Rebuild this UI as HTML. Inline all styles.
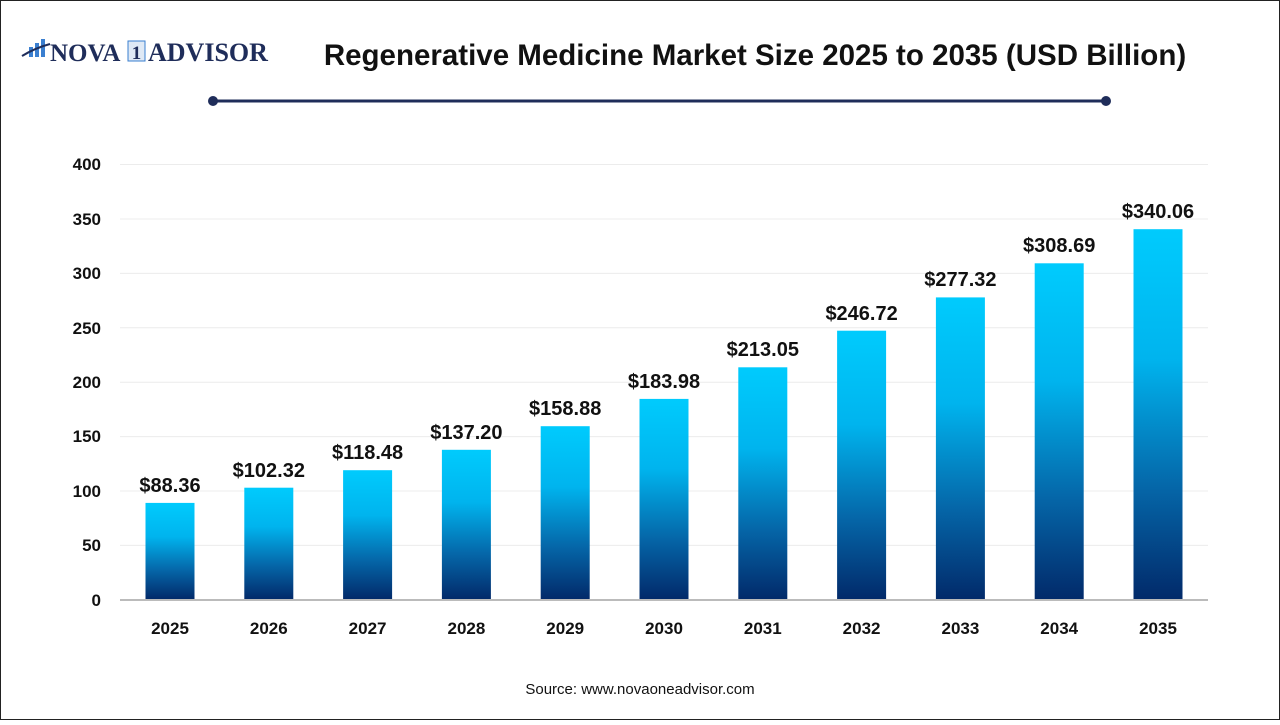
<!DOCTYPE html>
<html><head><style>
body{margin:0;width:1280px;height:720px;background:#fff;font-family:"Liberation Sans",Arial,sans-serif;overflow:hidden}
</style></head><body>
<svg width="1280" height="720" xmlns="http://www.w3.org/2000/svg" font-family="Liberation Sans, Arial, sans-serif">
<defs>
<linearGradient id="g" x1="0" y1="0" x2="0" y2="1">
<stop offset="0" stop-color="#00cbfd"/>
<stop offset="0.35" stop-color="#00b4ee"/>
<stop offset="0.7" stop-color="#0566a8"/>
<stop offset="1" stop-color="#022a6a"/>
</linearGradient>
</defs>
<rect x="0.5" y="0.5" width="1279" height="719" fill="#fff" stroke="#222" stroke-width="1"/>
<g>
<rect x="29" y="47" width="4" height="10" fill="#3a7fd0"/>
<rect x="35" y="43" width="4" height="14" fill="#3a7fd0"/>
<rect x="41" y="39" width="4" height="18" fill="#3a7fd0"/>
<path d="M22 56 Q35 48 50 44" stroke="#1f2d5a" stroke-width="2" fill="none"/>
<text x="50" y="61" font-family="Liberation Serif, serif" font-weight="bold" font-size="25" fill="#1f2d5a">NOVA</text>
<rect x="128" y="41" width="17" height="20" fill="#dfe9f5" stroke="#3a7fd0"/>
<text x="136.5" y="59" text-anchor="middle" font-family="Liberation Serif, serif" font-weight="bold" font-size="19" fill="#1f2d5a">1</text>
<text x="148" y="61" font-family="Liberation Serif, serif" font-weight="bold" font-size="26" fill="#1f2d5a">ADVISOR</text>
</g>
<text x="755" y="65" text-anchor="middle" font-weight="bold" font-size="29.5" fill="#111">Regenerative Medicine Market Size 2025 to 2035 (USD Billion)</text>
<line x1="213" y1="101" x2="1106" y2="101" stroke="#1f2d5a" stroke-width="3"/>
<circle cx="213" cy="101" r="5" fill="#1f2d5a"/><circle cx="1106" cy="101" r="5" fill="#1f2d5a"/>
<g stroke="#ececec" stroke-width="1">
<line x1="120" x2="1208" y1="164.5" y2="164.5"/>
<line x1="120" x2="1208" y1="219" y2="219"/>
<line x1="120" x2="1208" y1="273.4" y2="273.4"/>
<line x1="120" x2="1208" y1="327.8" y2="327.8"/>
<line x1="120" x2="1208" y1="382.2" y2="382.2"/>
<line x1="120" x2="1208" y1="436.6" y2="436.6"/>
<line x1="120" x2="1208" y1="491" y2="491"/>
<line x1="120" x2="1208" y1="545.4" y2="545.4"/>
</g>
<g font-weight="bold" font-size="17" fill="#111" text-anchor="end">
<text x="101" y="170">400</text><text x="101" y="225">350</text><text x="101" y="279">300</text>
<text x="101" y="334">250</text><text x="101" y="388">200</text><text x="101" y="442">150</text>
<text x="101" y="497">100</text><text x="101" y="551">50</text><text x="101" y="606">0</text>
</g>
<g fill="url(#g)">
<rect x="145.5" y="502.9" width="49" height="96.1"/>
<rect x="244.3" y="487.7" width="49" height="111.3"/>
<rect x="343.1" y="470.2" width="49" height="128.8"/>
<rect x="441.9" y="449.8" width="49" height="149.2"/>
<rect x="540.7" y="426.2" width="49" height="172.8"/>
<rect x="639.5" y="398.9" width="49" height="200.1"/>
<rect x="738.3" y="367.3" width="49" height="231.7"/>
<rect x="837.1" y="330.7" width="49" height="268.3"/>
<rect x="935.9" y="297.4" width="49" height="301.6"/>
<rect x="1034.7" y="263.3" width="49" height="335.7"/>
<rect x="1133.5" y="229.2" width="49" height="369.8"/>
</g>
<g font-weight="bold" font-size="20" fill="#111" text-anchor="middle">
<text x="170" y="492">$88.36</text>
<text x="268.8" y="477">$102.32</text>
<text x="367.6" y="459">$118.48</text>
<text x="466.4" y="439">$137.20</text>
<text x="565.2" y="415">$158.88</text>
<text x="664" y="388">$183.98</text>
<text x="762.8" y="356">$213.05</text>
<text x="861.6" y="320">$246.72</text>
<text x="960.4" y="286">$277.32</text>
<text x="1059.2" y="252">$308.69</text>
<text x="1158" y="218">$340.06</text>
</g>
<g font-weight="bold" font-size="17" fill="#111" text-anchor="middle">
<text x="170" y="634">2025</text><text x="268.8" y="634">2026</text><text x="367.6" y="634">2027</text>
<text x="466.4" y="634">2028</text><text x="565.2" y="634">2029</text><text x="664" y="634">2030</text>
<text x="762.8" y="634">2031</text><text x="861.6" y="634">2032</text><text x="960.4" y="634">2033</text>
<text x="1059.2" y="634">2034</text><text x="1158" y="634">2035</text>
</g>
<line x1="120" x2="1208" y1="600" y2="600" stroke="#bbb" stroke-width="2"/>
<text x="640" y="694" text-anchor="middle" font-size="15" fill="#111">Source: www.novaoneadvisor.com</text>
</svg>
</body></html>
